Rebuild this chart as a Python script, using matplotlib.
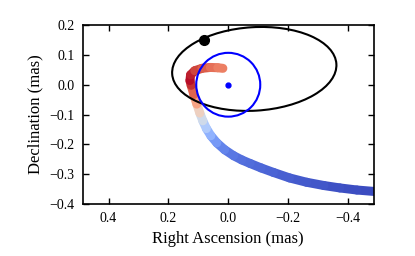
import numpy as np
import matplotlib
matplotlib.use("Agg")
import matplotlib.pyplot as plt
from matplotlib.collections import LineCollection
from matplotlib.patches import Ellipse, Circle
from matplotlib.ticker import FuncFormatter

plt.rcParams['font.family'] = ['Liberation Serif', 'DejaVu Serif']

# apparent path of the source (RA, Dec in mas)
track_ra = [-0.49, -0.43, -0.373, -0.32, -0.262, -0.205, -0.151, -0.11, -0.073,
            -0.045, -0.018, 0.012, 0.038, 0.058, 0.073, 0.085, 0.095, 0.105,
            0.115, 0.124, 0.128, 0.126, 0.112, 0.088, 0.06, 0.035, 0.018]
track_dec = [-0.358, -0.353, -0.346, -0.338, -0.327, -0.3125, -0.294, -0.279, -0.264,
             -0.252, -0.238, -0.218, -0.195, -0.171, -0.147, -0.121, -0.095, -0.065,
             -0.033, -0.002, 0.014, 0.033, 0.047, 0.055, 0.058, 0.057, 0.055]
track_val = [0.0, 0.0, 0.01, 0.02, 0.03, 0.04, 0.05, 0.06, 0.07,
             0.08, 0.09, 0.11, 0.15, 0.22, 0.3, 0.4, 0.5, 0.65,
             0.8, 0.93, 0.98, 1.0, 0.95, 0.9, 0.86, 0.82, 0.8]

# orbit of the companion
orbit_center = (-0.087, 0.053)
orbit_width = 0.55
orbit_height = 0.28
orbit_angle = -3.5
companion = (0.082, 0.15)

# primary
primary = (0.0, 0.0)
primary_radius = 0.107

fig = plt.figure(figsize=(4.15, 2.56), dpi=100)
ax = fig.add_axes([0.199, 0.203, 0.702, 0.699])

pts = np.column_stack([track_ra, track_dec])
segs = np.stack([pts[:-1], pts[1:]], axis=1)
vals = 0.5 * (np.array(track_val[:-1]) + np.array(track_val[1:]))
lc = LineCollection(segs, cmap='coolwarm', linewidths=6.5, capstyle='round',
                    joinstyle='round', zorder=1)
lc.set_array(vals)
lc.set_clim(0, 1)
ax.add_collection(lc)

ax.add_patch(Ellipse(orbit_center, orbit_width, orbit_height, angle=orbit_angle,
                     fill=False, ec='black', lw=1.5, zorder=2))
ax.plot(*companion, 'o', color='black', ms=7, zorder=3)

ax.add_patch(Circle(primary, primary_radius, fill=False, ec='blue', lw=1.5, zorder=2))
ax.plot(*primary, 'o', color='blue', ms=3.5, zorder=3)

fmt = FuncFormatter(lambda v, p: ('%.1f' % v).replace('-', '\u2212'))
ax.set_xlim(0.487, -0.487)
ax.set_ylim(-0.4, 0.2)
ax.set_xticks([0.4, 0.2, 0.0, -0.2, -0.4])
ax.set_yticks([0.2, 0.1, 0.0, -0.1, -0.2, -0.3, -0.4])
ax.xaxis.set_major_formatter(fmt)
ax.yaxis.set_major_formatter(fmt)
ax.tick_params(direction='in', top=True, right=True, labelsize=10, length=4, width=1, pad=6)
for s in ax.spines.values():
    s.set_linewidth(1.2)

ax.set_xlabel('Right Ascension (mas)', fontsize=12)
ax.set_ylabel('Declination (mas)', fontsize=12)

fig.savefig('out.png', dpi=100)
